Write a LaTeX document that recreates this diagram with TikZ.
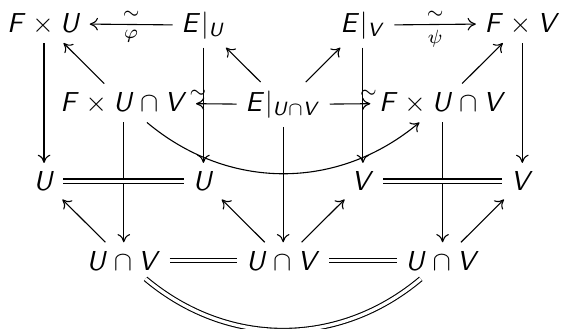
\documentclass[tikz,border=0pt]{standalone}
\usepackage{amsmath,amssymb}
\usetikzlibrary{arrows.meta}
\DeclareMathAlphabet{\mathsfit}{OT1}{cmss}{m}{sl}
\newcommand{\sF}{\mathsfit{F}}
\newcommand{\sE}{\mathsfit{E}}
\newcommand{\sU}{\mathsfit{U}}
\newcommand{\sV}{\mathsfit{V}}

\begin{document}
\begin{tikzpicture}[
      obj/.style={inner sep=3pt, anchor=base},
      arr/.style={-{Computer Modern Rightarrow[length=3pt, width=4.6pt]}, line width=0.4pt},
      eq/.style={double, double distance=1.2pt, line width=0.4pt},
      lbl/.style={inner sep=2pt}
  ]
    \useasboundingbox (0,0) rectangle (7.21,-4.22);

    % --- back face, top row ---
    \node[obj] (fu) at (0.565,-0.411) {$\sF\times\sU$};
    \node[obj] (eu) at (2.61,-0.411) {$\sE|_{\sU}$};
    \node[obj] (ev) at (4.656,-0.411) {$\sE|_{\sV}$};
    \node[obj] (fv) at (6.701,-0.411) {$\sF\times\sV$};

    % --- middle row ---
    \node[obj] (fuv1) at (1.588,-1.429) {$\sF\times\sU\cap\sV$};
    \node[obj] (euv) at (3.633,-1.429) {$\sE|_{\sU\cap\sV}$};
    \node[obj] (fuv2) at (5.678,-1.429) {$\sF\times\sU\cap\sV$};

    % --- base, upper row ---
    \node[obj] (u1) at (0.565,-2.447) {$\sU$};
    \node[obj] (u2) at (2.61,-2.447) {$\sU$};
    \node[obj] (v1) at (4.656,-2.447) {$\sV$};
    \node[obj] (v2) at (6.701,-2.447) {$\sV$};

    % --- base, lower row ---
    \node[obj] (uv1) at (1.588,-3.465) {$\sU\cap\sV$};
    \node[obj] (uv2) at (3.633,-3.465) {$\sU\cap\sV$};
    \node[obj] (uv3) at (5.678,-3.465) {$\sU\cap\sV$};

    % trivialisations
    \draw[arr] (eu) -- node[lbl, above] {$\scriptstyle\sim$}
                       node[lbl, below] {$\scriptstyle\varphi$} (fu);
    \draw[arr] (ev) -- node[lbl, above] {$\scriptstyle\sim$}
                       node[lbl, below] {$\scriptstyle\psi$} (fv);
    \draw[arr] (euv) -- (fuv1) node[lbl, pos=0.95, above] {$\scriptstyle\sim$};
    \draw[arr] (euv) -- (fuv2) node[lbl, pos=0.95, above] {$\scriptstyle\sim$};

    % restrictions
    \draw[arr] (fuv1) -- (fu);
    \draw[arr] (euv) -- (eu);
    \draw[arr] (euv) -- (ev);
    \draw[arr] (fuv2) -- (fv);
    \draw[arr] (fuv1) to[bend right=40] (fuv2);

    % projections
    \foreach \a/\b in {fu/u1, eu/u2, ev/v1, fv/v2, fuv1/uv1, euv/uv2, fuv2/uv3} {
      \draw[arr] (\a) -- (\b);
    }

    % inclusions
    \draw[arr] (uv1) -- (u1);
    \draw[arr] (uv2) -- (u2);
    \draw[arr] (uv2) -- (v1);
    \draw[arr] (uv3) -- (v2);

    % identities
    \draw[eq] (u1) -- (u2);
    \draw[eq] (v1) -- (v2);
    \draw[eq] (uv1) -- (uv2);
    \draw[eq] (uv2) -- (uv3);
    \draw[eq] (uv1) to[bend right=40] (uv3);

  \end{tikzpicture}
\end{document}
